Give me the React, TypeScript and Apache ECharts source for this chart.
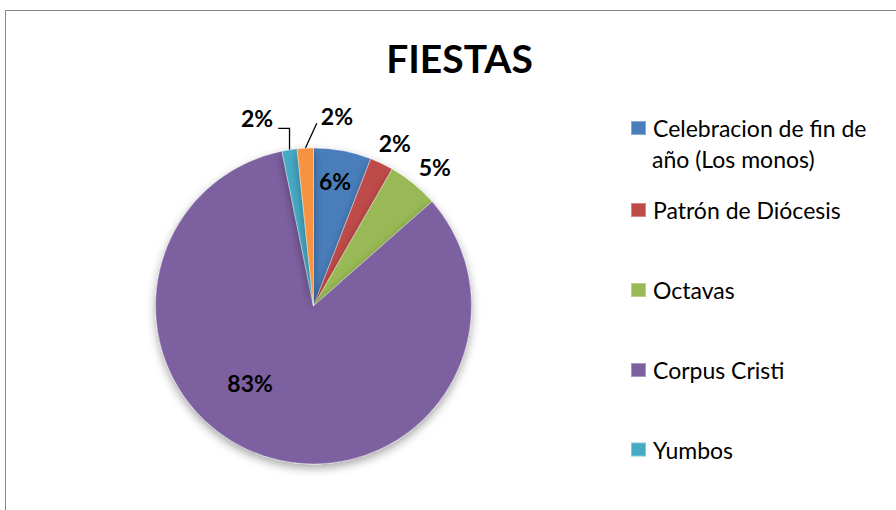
import React, { useEffect, useRef } from "react";
import * as echarts from "echarts";

const titleText = "FIESTAS";
const categories = [
  "Celebracion de fin de año (Los monos)",
  "Patrón de Diócesis",
  "Octavas",
  "Corpus Cristi",
  "Yumbos",
  "Otras",
];
const values = [5.9, 2.4, 5.2, 83.3, 1.55, 1.65];
const legendNames = categories.slice(0, 5);
const legendFirstLine = "Celebracion de fin de";
const legendSecondLine = "año (Los monos)";

const colors = ["#4A7EBB", "#BE4B48", "#98B954", "#7D60A0", "#46AAC5", "#F69240"];

// pie geometry (px)
const CX = 313.5;
const CY = 306;
const R = 158;
// label placement per slice: [radius factor, angular shift in degrees]
const labelPlace = [
  [0.8, -0.8],
  [1.15, 1],
  [1.17, 1.8],
  [0.63, 21],
  [1.24, -8],
  [1.21, 10],
];
const showLine = [false, false, false, false, true, true];
const legendCenters = [128, 210, 290, 370, 449.5];
const LEG_FONT = 23;
const LEG_LH = 24;

export default function App() {
  const ref = useRef<HTMLDivElement>(null);
  useEffect(() => {
    if (!ref.current) return;
    const chart = echarts.init(ref.current, null, { renderer: "svg" });
    const total = values.reduce((a, b) => a + b, 0);
    const mids: number[] = [];
    let acc = 0;
    values.forEach((v) => {
      mids.push(((acc + v / 2) / total) * 360);
      acc += v;
    });

    const data = categories.map((n, i) => ({
      name: n,
      value: values[i],
      itemStyle: { color: colors[i] },
      labelLine: { show: showLine[i] },
    }));

    const option: any = {
      animation: false,
      title: {
        text: titleText,
        left: 459.5,
        top: 38,
        textAlign: "center",
        padding: 0,
        textStyle: { fontFamily: "Lato", fontWeight: "bold", fontSize: 39, lineHeight: 40, color: "#000" },
      },
      legend: legendNames.map((n, i) => ({
        data: [n],
        left: 630,
        top: legendCenters[i] - LEG_LH / 2,
        padding: 0,
        itemWidth: 15,
        itemHeight: 14,
        icon: "rect",
        selectedMode: false,
        formatter: i === 0 ? () => legendFirstLine : "{name}",
        textStyle: { fontFamily: "Lato", fontSize: LEG_FONT, color: "#000", lineHeight: LEG_LH, padding: [0, 0, 0, 2] },
      })),
      graphic: [
        {
          type: "rect",
          shape: { x: 5.5, y: 10.5, width: 1200, height: 1200 },
          style: { fill: "none", stroke: "#878787", lineWidth: 1 },
          silent: true,
        },
        {
          type: "text",
          left: 652,
          top: legendCenters[0] + 31 - LEG_LH / 2,
          style: { text: legendSecondLine, fontFamily: "Lato", fontSize: LEG_FONT, fill: "#000", lineHeight: LEG_LH },
        },
      ],
      series: [
        {
          type: "pie",
          center: [CX, CY],
          radius: R,
          startAngle: 90,
          clockwise: true,
          avoidLabelOverlap: false,
          percentPrecision: 0,
          data,
          itemStyle: {
            borderColor: "rgba(255,255,255,0.35)",
            borderWidth: 1,
            shadowBlur: 10,
            shadowColor: "rgba(0,0,0,0.35)",
            shadowOffsetY: 4,
          },
          label: {
            show: true,
            position: "outside",
            formatter: "{d}%",
            fontFamily: "Lato",
            fontWeight: "bold",
            fontSize: 23,
            color: "#000",
          },
          labelLine: { show: true, length: 10, length2: 10, lineStyle: { color: "#000", width: 1.3 } },
          labelLayout: (p: any) => {
            const i = p.dataIndex;
            const [f, sh] = labelPlace[i];
            const a = ((mids[i] + sh) * Math.PI) / 180;
            const x = CX + R * f * Math.sin(a);
            const y = CY - R * f * Math.cos(a);
            const res: any = { x, y, align: "center", verticalAlign: "middle" };
            if (showLine[i]) {
              const m = (mids[i] * Math.PI) / 180;
              const ex = CX + R * Math.sin(m);
              const ey = CY - R * Math.cos(m);
              const w = p.labelRect.width;
              if (x < ex) {
                res.labelLinePoints = [[ex, ey], [ex, y + 10], [x + w / 2 + 5, y + 10]];
              } else {
                const tx = x - w / 2 - 4;
                const ty = y + 7;
                res.labelLinePoints = [[ex, ey], [(ex + tx) / 2, (ey + ty) / 2], [tx, ty]];
              }
            }
            return res;
          },
        },
      ],
    };
    chart.setOption(option);
    return () => chart.dispose();
  }, []);
  return (
    <div
      ref={ref}
      style={{ position: "fixed", left: 0, top: 0, width: 896, height: 510, background: "#fff" }}
    />
  );
}
